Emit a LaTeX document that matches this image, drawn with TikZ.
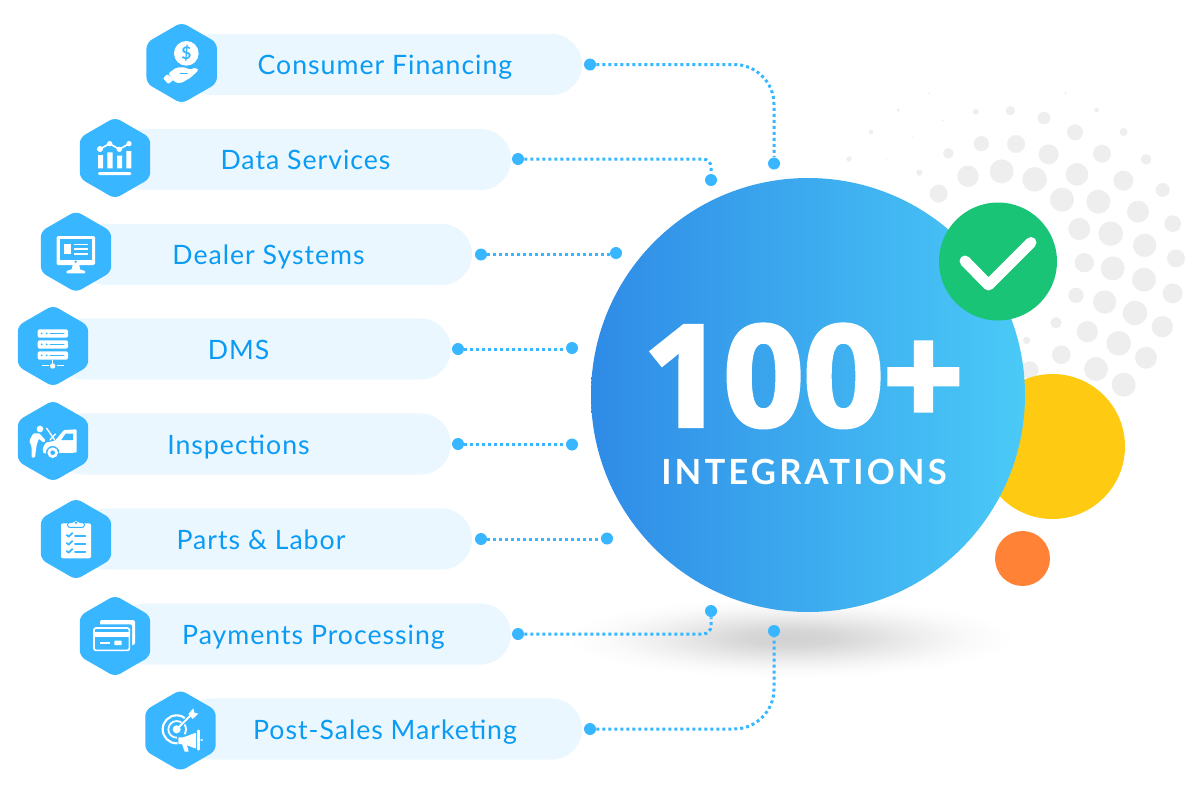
\documentclass[tikz,border=0pt]{standalone}
\usepackage{fontspec}
\setmainfont{Lato}
\newfontfamily\heavyfont[BoldFeatures={FakeBold=3}]{Open Sans}
\usetikzlibrary{shapes.geometric}
\definecolor{hexblue}{HTML}{38B6FF}
\definecolor{pillblue}{HTML}{EBF7FF}
\definecolor{labelblue}{HTML}{0A9BF5}
\definecolor{graydot}{HTML}{EEEEEE}
\definecolor{checkgreen}{HTML}{19C476}
\definecolor{sunyellow}{HTML}{FFCB12}
\definecolor{orangedot}{HTML}{FF8237}
\definecolor{bigleft}{HTML}{2F8BE6}
\definecolor{bigright}{HTML}{4ACAF7}
\pgfdeclareradialshading{floorshadow}{\pgfpoint{0bp}{0bp}}{%
 color(0bp)=(black!18); color(5bp)=(black!16); color(10bp)=(black!11); color(15bp)=(black!6); color(20bp)=(black!2); color(25bp)=(white); color(100bp)=(white)}
\tikzset{
 pill/.style={fill=pillblue,rounded corners=22.8pt,inner sep=0pt,minimum height=45.8pt},
 hexa/.style={regular polygon,regular polygon sides=6,shape border rotate=30,fill=hexblue,minimum size=61pt,inner sep=0pt,rounded corners=4.5pt},
 plabel/.style={anchor=base,text=labelblue,font=\fontsize{20}{24}\selectfont\addfontfeature{LetterSpace=3.7}},
 endpt/.style={circle,fill=hexblue,minimum size=9pt,inner sep=0pt},
 link/.style={draw=hexblue,line width=2.25pt,dash pattern=on 2.25pt off 2.25pt},
 zoomA/.style={x=0.25pt,y=-0.25pt},
 wl/.style={draw=white,line width=#1*0.25pt,line cap=round,line join=round},
 bl/.style={draw=hexblue,line width=#1*0.25pt,line cap=round,line join=round},
}
\begin{document}
\begin{tikzpicture}[x=0.75pt,y=-0.75pt]
\useasboundingbox (0,0) rectangle (1200,800);
% floor shadow
\shade[shading=floorshadow] (790,638) ellipse [x radius=225,y radius=40];
% halftone dots
\foreach \a/\b/\r in {267/10/3,677/10/4,175/60/5,407/65/9,511/62/14,612/84/19,770/60/7,308/92/3,93/126/7,217/141/2,424/161/23,528/162/27,705/127/24,851/126/12,325/190/16,626/193/30,786/191/27,918/208/16,27/207/8,140/209/2,238/248/9,384/259/32,485/244/36,584/268/37,711/253/34,850/272/30,968/300/21,296/311/27,666/329/36,775/335/36,894/365/33,998/401/25,718/417/33,812/431/37,914/466/35,1008/505/27,733/518/29,818/535/36,912/569/36,998/610/30,708/616/23,794/636/35,885/669/37,967/710/32,648/698/17,742/725/32,836/760/37,918/803/33,560/751/11,664/794/28,768/837/36,851/884/36,570/840/26}
 \fill[graydot] ({840+\a/3},{90+\b/3}) circle [radius=\r*0.25pt];
% accent circles
\node[circle,fill=sunyellow,minimum size=108.75pt,inner sep=0pt] (sun) at (1052.5,446.5) {};
\node[circle,fill=orangedot,minimum size=41.25pt,inner sep=0pt] (orange) at (1022.5,558.5) {};
\node[circle,left color=bigleft,right color=bigright,minimum size=325.5pt,inner sep=0pt] (hub) at (808,395) {};
\node[circle,fill=checkgreen,minimum size=88.5pt,inner sep=0pt] (ok) at (998,261.5) {};
\draw[white,line width=8.25pt,line cap=round,line join=round] (965,261) -- (988.5,285) -- (1031,242.5);
\node[anchor=base,text=white,font=\heavyfont\bfseries\fontsize{105}{110}\selectfont] (hundred) at (803.5,426) {100+};
\node[anchor=base,text=white,font=\bfseries\fontsize{26}{30}\selectfont\addfontfeature{LetterSpace=9}] (integ) at (804,484.3) {INTEGRATIONS};
% pills
\foreach \n/\xa/\xb/\yy in {1/182/582/64.5,2/115/511/159.5,3/76/472/254.5,4/53/451/349,5/53/451/444,6/76/472/539,7/115/511/634,8/181/582/729}
 \node[pill,minimum width={(\xb-\xa)*0.75pt}] (pill\n) at ({(\xa+\xb)/2},\yy) {};
% labels
\node[plabel] (t1) at (385,74.5) {Consumer Financing};
\node[plabel] (t2) at (305.5,169.5) {Data Services};
\node[plabel] (t3) at (268.5,264.5) {Dealer Systems};
\node[plabel] (t4) at (238.5,359) {DMS};
\node[plabel] (t5) at (238.5,454) {Inspections};
\node[plabel] (t6) at (261,549) {Parts \& Labor};
\node[plabel] (t7) at (313.5,644) {Payments Processing};
\node[plabel] (t8) at (385,739) {Post-Sales Marketing};
% hexagons
\node[hexa] (h1) at (181.7,63) {};
\node[hexa] (h2) at (115,158) {};
\node[hexa] (h3) at (76,251.7) {};
\node[hexa] (h4) at (53,346) {};
\node[hexa] (h5) at (53,441) {};
\node[hexa] (h6) at (76,539) {};
\node[hexa] (h7) at (115,636) {};
\node[hexa] (h8) at (180.5,730.5) {};
% connector ends
\foreach \n/\xs/\ys/\xe/\ye in {1/590/64.5/774/163.5,2/518/159/711/180,3/481/254.5/616/253,4/458/349/572/348,5/458/444/572/444.5,6/481/539/607/538.5,7/518/634/711/611,8/590/729/774/631}{
 \node[endpt] (s\n) at (\xs,\ys) {};
 \node[endpt] (e\n) at (\xe,\ye) {};
}
\draw[link,rounded corners=30pt] (s1) -| (e1);
\draw[link,rounded corners=6pt] (s2) -| (e2);
\draw[link] (s3) -- (s3 -| e3.west);
\draw[link] (s4) -- (s4 -| e4.west);
\draw[link] (s5) -- (s5 -| e5.west);
\draw[link] (s6) -- (s6 -| e6.west);
\draw[link,rounded corners=6pt] (s7) -| (e7);
\draw[link,rounded corners=30pt] (s8) -| (e8);
% icon 1: hand and coin
\begin{scope}[shift={(130,10)},zoomA]
 \fill[white] (169,130) circle [radius=37*0.25pt];
 \node[text=hexblue,font=\fontsize{13}{13}\selectfont\bfseries] (dollar) at (169,130) {\$};
 \fill[white,rounded corners=1.5pt] (115,190) -- (140,172) -- (168,172) -- (178,180) -- (198,172) -- (206,180) -- (182,203) -- (152,220) -- (132,216) -- cycle;
 \fill[white,rounded corners=0.8pt] (99,205) -- (112,192) -- (130,210) -- (115,222) -- cycle;
 \draw[bl=3] (150,190) -- (172,190);
\end{scope}
% icon 2: chart
\begin{scope}[shift={(75,115)},zoomA]
 \draw[wl=5] (75,102) -- (104,86) -- (133,103) -- (162,86);
 \foreach \a/\b/\r in {75/102/9,104/86/8,133/103/8,162/86/8} \fill[white] (\a,\b) circle [radius=\r*0.25pt];
 \fill[white] (69,120) rectangle (84,160) (97,112) rectangle (113,160) (126,122) rectangle (141,160) (154,108) rectangle (169,160);
 \fill[white,rounded corners=1pt] (69,171) rectangle (169,180);
\end{scope}
% icons 3-5
\begin{scope}[shift={(0,200)},zoomA]
 \fill[white,rounded corners=1pt] (170,108) rectangle (285,195);
 \fill[hexblue] (180,118) rectangle (275,181);
 \fill[white] (192,131) rectangle (212,163);
 \draw[wl=5,line cap=butt] (222,133) -- (263,133) (222,147) -- (263,147) (222,161) -- (263,161);
 \fill[hexblue] (227,185) circle [radius=4*0.25pt];
 \fill[white] (218,195) -- (238,195) -- (240,208) -- (255,213) -- (255,220) -- (200,220) -- (200,213) -- (215,208) -- cycle;
 % servers
 \foreach \q in {388,421,454}{
  \fill[white,rounded corners=1.5pt] (113,\q) rectangle (204,\q+25);
  \fill[hexblue] (125,\q+12) circle [radius=3*0.25pt] (140,\q+12) circle [radius=3*0.25pt];
  \draw[bl=3] (150,\q+12) -- (192,\q+12);
 }
 \draw[wl=4,line cap=butt] (158,479) -- (158,498) (125,497) -- (148,497) (170,497) -- (192,497);
 \fill[white] (158,498) circle [radius=8*0.25pt];
 % mechanic
 \fill[white] (120,687) circle [radius=10*0.25pt];
 \fill[white,rounded corners=0.8pt] (100,700) -- (118,700) -- (137,721) -- (131,728) -- (116,716) -- (109,740) -- (105,773) -- (95,773) -- (95,742) -- (88,722) -- cycle;
 \fill[white,rounded corners=0.8pt] (230,688) -- (192,690) -- (165,722) -- (137,728) -- (128,745) -- (130,760) -- (230,758) -- cycle;
 \fill[hexblue] (197,701) -- (219,701) -- (219,720) -- (184,720) -- cycle;
 \fill[hexblue] (158,758) circle [radius=20*0.25pt];
 \fill[white] (158,758) circle [radius=16*0.25pt];
 \fill[hexblue] (158,758) circle [radius=7*0.25pt];
 \draw[wl=4] (140,685) -- (163,718) (166,702) -- (150,720);
\end{scope}
% icons 6-8
\begin{scope}[shift={(20,490)},zoomA]
 % clipboard
 \fill[white,rounded corners=1.5pt] (123,100) rectangle (213,205);
 \draw[bl=3,fill=white,rounded corners=1.5pt] (143,112) -- (143,98) -- (160,98) -- (168,88) -- (176,98) -- (193,98) -- (193,112) -- cycle;
 \fill[hexblue] (168,98) circle [radius=4*0.25pt];
 \foreach \q in {135,159,183}{
  \draw[bl=5] (140,\q) -- (146,\q+5) -- (157,\q-6);
  \draw[bl=5] (165,\q+2) -- (196,\q+2);
 }
 % cards
 \fill[white,rounded corners=1.5pt] (240,390) rectangle (345,465);
 \fill[hexblue,rounded corners=1.5pt] (214,403) rectangle (336,490);
 \draw[white,line width=1.25pt,rounded corners=1.5pt] (222,414) rectangle (328,481);
 \fill[white] (224,427) rectangle (326,440);
 \draw[wl=6,line cap=butt] (240,458) -- (270,458);
 \fill[white,rounded corners=0.5pt] (283,452) rectangle (305,465);
 % target and megaphone
 \draw[white,line width=1.6pt] (470,718) circle [radius=42*0.25pt];
 \draw[white,line width=1.3pt] (470,718) circle [radius=25*0.25pt];
 \fill[hexblue] (470,718) -- (520,650) -- (560,700) -- (550,800) -- (475,795) -- cycle;
 \fill[white] (470,718) circle [radius=12*0.25pt];
 \draw[wl=6,line cap=butt] (470,718) -- (520,668);
 \fill[white] (505,672) -- (520,655) -- (523,668) -- (535,671) -- (518,687) -- cycle;
 \draw[white,line width=1.4pt,line cap=round] (495,705) arc [start angle=30,end angle=-30,radius=26*0.25pt];
 \fill[white,rounded corners=0.6pt] (475,742) -- (490,742) -- (528,728) -- (528,776) -- (490,762) -- (475,762) -- cycle;
 \fill[white] (486,762) -- (500,762) -- (506,785) -- (494,785) -- cycle;
 \draw[wl=7] (535,722) -- (535,778);
 \draw[wl=6] (544,750) -- (546,750);
\end{scope}
\end{tikzpicture}
\end{document}
